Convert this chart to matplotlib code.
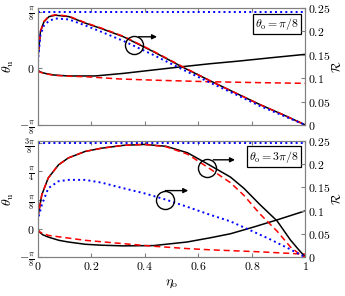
import numpy as np
import matplotlib.pyplot as plt

plt.rcParams['font.family'] = 'serif'
plt.rcParams['font.serif'] = ['DejaVu Serif']
plt.rcParams['mathtext.fontset'] = 'cm'

# ---- top panel (theta_o = pi/8) ----
eta_r1 = [0, 0.003, 0.011, 0.024, 0.043, 0.067, 0.117, 0.179, 0.241, 0.321, 0.43, 0.539, 0.645, 0.74, 0.832, 0.92, 1.0]
R_black1 = [0.115, 0.150, 0.199, 0.220, 0.231, 0.234, 0.231, 0.217, 0.205, 0.188, 0.157, 0.124, 0.094, 0.068, 0.043, 0.021, 0.0]
R_red1 = [0.115, 0.152, 0.200, 0.221, 0.232, 0.235, 0.232, 0.218, 0.206, 0.189, 0.158, 0.125, 0.094, 0.068, 0.043, 0.021, 0.0]
R_blue1 = [0.112, 0.145, 0.192, 0.212, 0.222, 0.227, 0.225, 0.212, 0.198, 0.179, 0.150, 0.119, 0.090, 0.065, 0.040, 0.019, 0.0]

eta_tb1 = [0, 0.01, 0.028, 0.06, 0.115, 0.215, 0.321, 0.43, 0.539, 0.645, 0.75, 0.87, 1.0]
th_black1 = [-0.01, -0.025, -0.035, -0.046, -0.053, -0.053, -0.035, -0.012, 0.011, 0.032, 0.050, 0.073, 0.097]
eta_tr1 = [0, 0.01, 0.028, 0.06, 0.115, 0.178, 0.308, 0.45, 0.645, 0.82, 1.0]
th_red1 = [-0.015, -0.027, -0.037, -0.048, -0.055, -0.058, -0.074, -0.083, -0.093, -0.099, -0.104]

# ---- bottom panel (theta_o = 3pi/8) ----
eta_r2 = [0, 0.003, 0.016, 0.04, 0.078, 0.115, 0.178, 0.24, 0.32, 0.40, 0.48, 0.56, 0.635, 0.72, 0.77, 0.83, 0.894, 0.944, 0.975, 1.0]
R_black2 = [0.062, 0.091, 0.134, 0.170, 0.198, 0.213, 0.227, 0.234, 0.240, 0.242, 0.238, 0.224, 0.200, 0.172, 0.148, 0.113, 0.078, 0.037, 0.016, 0.0]
R_red2 = [0.062, 0.091, 0.134, 0.170, 0.198, 0.213, 0.227, 0.234, 0.240, 0.242, 0.237, 0.221, 0.193, 0.160, 0.133, 0.093, 0.056, 0.022, 0.008, 0.0]
eta_b2 = [0, 0.003, 0.016, 0.04, 0.078, 0.115, 0.178, 0.24, 0.321, 0.40, 0.477, 0.56, 0.645, 0.72, 0.794, 0.87, 0.94, 1.0]
R_blue2 = [0.066, 0.085, 0.112, 0.148, 0.163, 0.166, 0.166, 0.160, 0.148, 0.137, 0.124, 0.108, 0.091, 0.077, 0.058, 0.038, 0.018, 0.0]

eta_tb2 = [0, 0.004, 0.01, 0.02, 0.04, 0.08, 0.115, 0.178, 0.24, 0.321, 0.433, 0.558, 0.645, 0.72, 0.8, 0.894, 1.0]
th_black2 = [-0.01, -0.03, -0.055, -0.085, -0.115, -0.16, -0.183, -0.214, -0.227, -0.236, -0.232, -0.183, -0.125, -0.07, 0.015, 0.12, 0.245]
eta_tr2 = [0, 0.01, 0.04, 0.115, 0.178, 0.321, 0.433, 0.558, 0.645, 0.832, 1.0]
th_red2 = [-0.01, -0.05, -0.092, -0.129, -0.16, -0.206, -0.241, -0.273, -0.29, -0.318, -0.35]

theta_o = [np.pi / 8, 3 * np.pi / 8]
titles = [r'$\theta_{\rm o} = \pi/8$', r'$\theta_{\rm o} = 3\pi/8$']

fig = plt.figure(figsize=(3.45, 2.96), dpi=100)
ax1 = fig.add_axes([0.1087, 0.5777, 0.7768, 0.3963])
ax2 = fig.add_axes([0.1087, 0.1307, 0.7768, 0.394])

lw = 1.1
for ax, top in [(ax1, 0.42), (ax2, 1.205)]:
    ax.set_xlim(0, 1)
    ax.set_ylim(-np.pi / 8, top)

axr1 = ax1.twinx()
axr2 = ax2.twinx()
for axr in [axr1, axr2]:
    axr.set_ylim(0, 0.25)

# top panel curves
ax1.axhline(theta_o[0], color='blue', ls=':', lw=1.4)
ax1.plot(eta_tb1, th_black1, color='black', lw=lw)
ax1.plot(eta_tr1, th_red1, color='red', ls=(0, (4, 2.5)), lw=lw)
axr1.plot(eta_r1, R_black1, color='black', lw=lw)
axr1.plot(eta_r1, R_red1, color='red', ls=(0, (4, 2.5)), lw=lw)
axr1.plot(eta_r1, R_blue1, color='blue', ls=':', lw=1.4)

# bottom panel curves
ax2.axhline(theta_o[1], color='blue', ls=':', lw=1.4)
ax2.plot(eta_tb2, th_black2, color='black', lw=lw)
ax2.plot(eta_tr2, th_red2, color='red', ls=(0, (4, 2.5)), lw=lw)
axr2.plot(eta_r2, R_black2, color='black', lw=lw)
axr2.plot(eta_r2, R_red2, color='red', ls=(0, (4, 2.5)), lw=lw)
axr2.plot(eta_b2, R_blue2, color='blue', ls=':', lw=1.4)

# circles with arrows pointing to the right axis
marks = [(axr1, 0.36, 0.170, 0.188, 0.377, 0.446),
         (axr2, 0.634, 0.191, 0.209, 0.656, 0.737),
         (axr2, 0.477, 0.123, 0.143, 0.477, 0.5625)]
for axr, cx, cy, ay, ax0, ax_end in marks:
    axr.plot([cx], [cy], 'o', ms=13, mfc='none', mec='black', mew=1.0)
    axr.annotate('', xy=(ax_end, ay), xytext=(ax0, ay),
                 arrowprops=dict(arrowstyle='-|>', color='black', lw=1.0,
                                 mutation_scale=7, shrinkA=0, shrinkB=0))

# boxes
for ax, t in [(ax1, titles[0]), (ax2, titles[1])]:
    ax.text(0.975, 0.93, t, transform=ax.transAxes, ha='right', va='top', fontsize=8.5,
            bbox=dict(boxstyle='square,pad=0.2', fc='white', ec='black', lw=0.9))

fs = 8.5
ax1.set_yticks([-np.pi / 8, 0, np.pi / 8])
ax1.set_yticklabels([r'$-\frac{\pi}{8}$', r'$0$', r'$\frac{\pi}{8}$'], fontsize=fs)
ax2.set_yticks([-np.pi / 8, 0, np.pi / 8, np.pi / 4, 3 * np.pi / 8])
ax2.set_yticklabels([r'$-\frac{\pi}{8}$', r'$0$', r'$\frac{\pi}{8}$', r'$\frac{\pi}{4}$', r'$\frac{3\pi}{8}$'], fontsize=fs)

rt = [0, 0.05, 0.1, 0.15, 0.2, 0.25]
for axr in [axr1, axr2]:
    axr.set_yticks(rt)
    axr.set_yticklabels([r'$0$', r'$0.05$', r'$0.1$', r'$0.15$', r'$0.2$', r'$0.25$'], fontsize=fs)
    axr.set_ylabel(r'$\mathcal{R}$', fontsize=9, labelpad=0)
    axr.tick_params(axis='y', direction='in', length=3, pad=2, color='0.5')

xt = [0, 0.2, 0.4, 0.6, 0.8, 1]
for ax in [ax1, ax2]:
    ax.set_xticks(xt)
    ax.set_ylabel(r'$\theta_{\rm u}$', fontsize=10, labelpad=2)
    ax.tick_params(direction='in', length=3, pad=2, color='0.5', top=True)
ax1.set_xticklabels([])
ax2.set_xticklabels([r'$0$', r'$0.2$', r'$0.4$', r'$0.6$', r'$0.8$', r'$1$'], fontsize=fs)
ax2.set_xlabel(r'$\eta_{\rm o}$', fontsize=10, labelpad=2)

for a in [ax1, ax2, axr1, axr2]:
    for s in a.spines.values():
        s.set_color('0.5')
        s.set_linewidth(0.8)

fig.savefig('out.png', dpi=100)
